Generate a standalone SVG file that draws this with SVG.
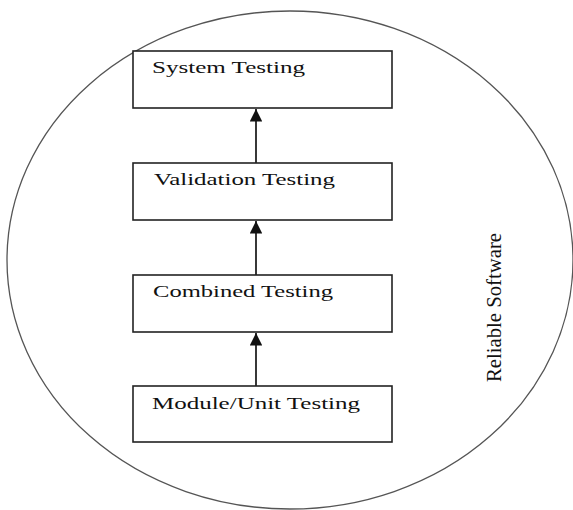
<svg xmlns="http://www.w3.org/2000/svg" width="573" height="510" viewBox="0 0 573 510">
<style>
.box{fill:#fff;stroke:#222;stroke-width:1.6}
.lbl{font-family:"Liberation Serif","Times New Roman",serif;font-size:16px;fill:#111}
.conn{stroke:#222;stroke-width:1.8;fill:none}
</style>
<defs>
<marker id="ah" viewBox="0 0 10 10" refX="10" refY="5" markerWidth="7" markerHeight="7" markerUnits="strokeWidth" orient="auto">
<path d="M0,0 L10,5 L0,10 Z" fill="#111"/>
</marker>
</defs>
<rect width="573" height="510" fill="#fff"/>
<g id="boundary">
<ellipse cx="290" cy="260" rx="283" ry="249" fill="none" stroke="#555" stroke-width="1.3"/>
<text class="lbl" transform="translate(501,382) rotate(-90)" style="font-size:21px" textLength="149" lengthAdjust="spacingAndGlyphs">Reliable Software</text>
</g>
<g id="system">
<rect class="box" x="133" y="51" width="259" height="57"/>
<text class="lbl" x="152" y="73" textLength="153" lengthAdjust="spacingAndGlyphs">System Testing</text>
</g>
<g id="validation">
<rect class="box" x="133" y="163" width="259" height="57"/>
<text class="lbl" x="154" y="185" textLength="181" lengthAdjust="spacingAndGlyphs">Validation Testing</text>
</g>
<g id="combined">
<rect class="box" x="133" y="275" width="259" height="57"/>
<text class="lbl" x="153" y="297" textLength="180" lengthAdjust="spacingAndGlyphs">Combined Testing</text>
</g>
<g id="module">
<rect class="box" x="133" y="386" width="259" height="56"/>
<text class="lbl" x="152" y="409" textLength="208" lengthAdjust="spacingAndGlyphs">Module/Unit Testing</text>
</g>
<g id="connectors">
<line class="conn" x1="256" y1="163" x2="256" y2="109" marker-end="url(#ah)"/>
<line class="conn" x1="256" y1="275" x2="256" y2="221" marker-end="url(#ah)"/>
<line class="conn" x1="256" y1="386" x2="256" y2="333" marker-end="url(#ah)"/>
</g>
</svg>
